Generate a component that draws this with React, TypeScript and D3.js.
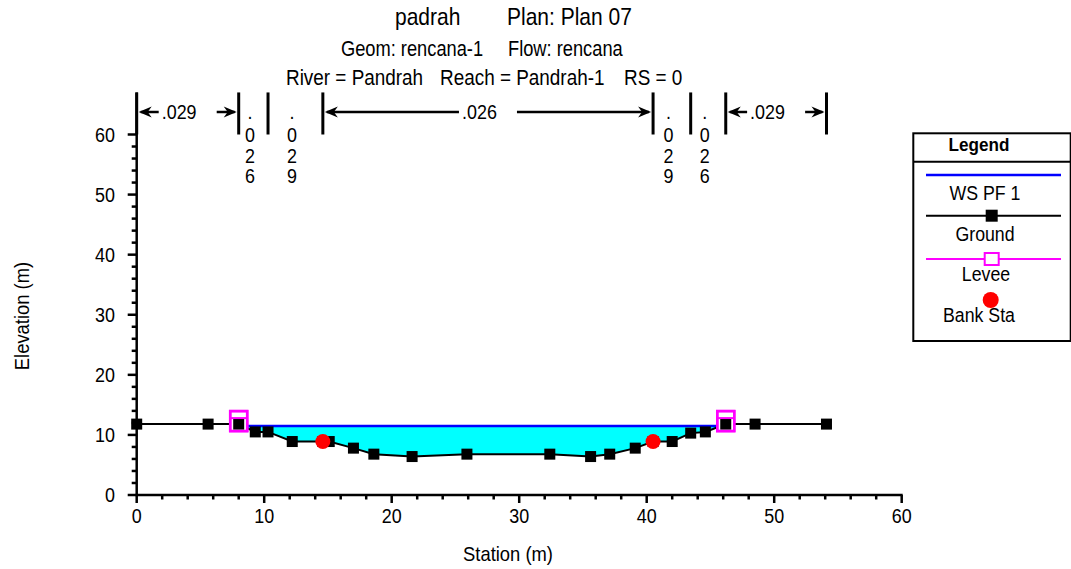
import React from "react";
import * as d3 from "d3";

// ---------- data ----------
const groundSta = [0, 5.6, 8.0, 9.3, 10.3, 12.2, 14.6, 15.1, 17.0, 18.6, 21.6, 25.9, 32.4, 35.6, 37.1, 39.1, 40.5, 42.0, 43.45, 44.6, 46.2, 48.5, 54.1];
const groundElev = [11.8, 11.8, 11.8, 10.5, 10.5, 8.9, 8.9, 8.9, 7.8, 6.8, 6.4, 6.8, 6.8, 6.4, 6.8, 7.8, 8.9, 8.9, 10.3, 10.5, 11.8, 11.8, 11.8];
const wsElev = 11.5;
const leveeSta = [8.0, 46.2];
const leveeElev = [12.3, 12.3];
const bankSta = [14.6, 40.5];
const bankElev = [8.9, 8.9];
const nBreaks = [0, 8.0, 10.3, 14.6, 40.5, 43.45, 46.2, 54.1];
const nValues = [".029", ".026", ".029", ".026", ".029", ".026", ".029"];
const xTicks = [0, 10, 20, 30, 40, 50, 60];
const yTicks = [0, 10, 20, 30, 40, 50, 60];
const legendItems = ["WS PF 1", "Ground", "Levee", "Bank Sta"];
const titleLine1 = ["padrah", "Plan: Plan 07"];
const titleLine2 = ["Geom: rencana-1", "Flow: rencana"];
const titleLine3 = ["River = Pandrah", "Reach = Pandrah-1", "RS = 0"];

const FONT = "'Liberation Sans', Arial, Helvetica, sans-serif";

function ST({ x, y, size, sx, children, anchor }: any) {
  return (
    <text transform={`translate(${x},${y}) scale(${sx},1)`} fontSize={size} textAnchor={anchor || "start"}>
      {children}
    </text>
  );
}

export default function App() {
  const x = d3.scaleLinear().domain([0, 60]).range([136.7, 901.7]);
  const y = d3.scaleLinear().domain([0, 60]).range([495, 134.5]);
  const yTop = 67;

  const ground = groundSta.map((s, i) => ({ s, e: groundElev[i] }));

  // water area between levees
  const wPts: { s: number; e: number }[] = [];
  for (let i = 0; i < ground.length - 1; i++) {
    const a = ground[i], b = ground[i + 1];
    if (b.s < leveeSta[0] || a.s > leveeSta[1]) continue;
    wPts.push(a);
    if ((a.e - wsElev) * (b.e - wsElev) < 0) {
      const t = (wsElev - a.e) / (b.e - a.e);
      wPts.push({ s: a.s + t * (b.s - a.s), e: wsElev });
    }
  }
  const lastIn = ground.filter((g) => g.s <= leveeSta[1]);
  wPts.push(lastIn[lastIn.length - 1]);
  const wet = wPts.filter((p) => p.e <= wsElev + 1e-9);
  const wsL = d3.min(wet, (p) => p.s) as number;
  const wsR = d3.max(wet, (p) => p.s) as number;
  const wetRange = wPts.filter((p) => p.s >= wsL && p.s <= wsR);

  const area = d3
    .area<{ s: number; e: number }>()
    .x((d) => x(d.s))
    .y0((d) => y(Math.min(d.e, wsElev)))
    .y1(() => y(wsElev));
  const line = d3
    .line<{ s: number; e: number }>()
    .x((d) => x(d.s))
    .y((d) => y(d.e));

  const xMinor = d3.range(0, 61, 2).filter((v) => v % 10 !== 0);
  const yMinor = d3.range(0, 61, 2).filter((v) => v % 10 !== 0);

  const barTop = y(yTop);
  const barBot = y(60);
  const arrowY = 112;

  const arrowHead = (bx: number, dir: number) => {
    const t = bx;
    return `M${t},${arrowY} L${t - dir * 13},${arrowY - 5.5} L${t - dir * 9},${arrowY} L${t - dir * 13},${arrowY + 5.5} Z`;
  };

  const nEls: React.ReactNode[] = [];
  nBreaks.forEach((b, i) => {
    nEls.push(
      <line key={"bar" + i} x1={x(b)} x2={x(b)} y1={barTop} y2={barBot} stroke="#000" strokeWidth={3} />
    );
  });
  nValues.forEach((v, i) => {
    const x0 = x(nBreaks[i]);
    const x1 = x(nBreaks[i + 1]);
    const mid = (x0 + x1) / 2;
    if (x1 - x0 > 80) {
      nEls.push(
        <g key={"n" + i}>
          <line x1={x0 + 4} x2={mid - 29} y1={arrowY} y2={arrowY} stroke="#000" strokeWidth={2.5} />
          <path d={arrowHead(x0 + 2, -1)} fill="#000" />
          <line x1={mid + 29} x2={x1 - 4} y1={arrowY} y2={arrowY} stroke="#000" strokeWidth={2.5} />
          <path d={arrowHead(x1 - 2, 1)} fill="#000" />
          <ST x={mid - 26} y={arrowY + 6.5} size={19.5} sx={0.92}>{v}</ST>
        </g>
      );
    } else {
      const chars = v.split("");
      const bases = [119, 141.5, 162.5, 183];
      nEls.push(
        <g key={"n" + i}>
          {chars.map((c, j) => (
            <ST key={j} x={mid - 3.5} y={bases[j]} size={19.5} sx={0.92} anchor="middle">{c}</ST>
          ))}
        </g>
      );
    }
  });

  const lx = 913.3, lw = 157.4, ly = 133.3, lh = 207.7;

  return (
    <svg
      width={1071}
      height={569}
      style={{ position: "absolute", left: 0, top: 0, background: "#fff" }}
      fontFamily={FONT}
    >
      <rect x={0} y={0} width={1071} height={569} fill="#fff" />
      {/* titles */}
      <ST x={395} y={25} size={24} sx={0.875}>{titleLine1[0]}</ST>
      <ST x={507} y={25} size={24} sx={0.875}>{titleLine1[1]}</ST>
      <ST x={341} y={56} size={21.5} sx={0.85}>{titleLine2[0]}</ST>
      <ST x={508} y={56} size={21.5} sx={0.85}>{titleLine2[1]}</ST>
      <ST x={286} y={84.5} size={22} sx={0.86}>{titleLine3[0]}</ST>
      <ST x={440} y={84.5} size={22} sx={0.86}>{titleLine3[1]}</ST>
      <ST x={624} y={84.5} size={22} sx={0.86}>{titleLine3[2]}</ST>

      {/* water */}
      <path d={area(wetRange) || ""} fill="#00FFFF" />
      <line x1={x(wsL)} x2={x(wsR)} y1={y(wsElev)} y2={y(wsElev)} stroke="#0000FF" strokeWidth={2.5} />

      {/* ground line */}
      <path d={line(ground) || ""} fill="none" stroke="#000" strokeWidth={2} />

      {/* levees (background) */}
      {leveeSta.map((s, i) => (
        <rect key={"lv" + i} x={x(s) - 8.5} y={y(leveeElev[i]) - 10} width={17} height={20} fill="#fff" stroke="#FF00FF" strokeWidth={2.5} />
      ))}

      {/* ground markers */}
      {ground.map((g, i) => (
        <rect key={"g" + i} x={x(g.s) - 5.5} y={y(g.e) - 5.5} width={11} height={11} fill="#000" />
      ))}

      {/* levee outlines */}
      {leveeSta.map((s, i) => (
        <g key={"lo" + i}>
          <rect x={x(s) - 8.5} y={y(leveeElev[i]) - 10} width={17} height={20} fill="none" stroke="#FF00FF" strokeWidth={2.5} />
          <line x1={x(s) - 8.5} x2={x(s) + 8.5} y1={y(leveeElev[i]) - 3} y2={y(leveeElev[i]) - 3} stroke="#FF00FF" strokeWidth={2} />
        </g>
      ))}

      {/* bank stations */}
      {bankSta.map((s, i) => (
        <circle key={"b" + i} cx={x(s)} cy={y(bankElev[i])} r={7.5} fill="#FF0000" />
      ))}

      {/* n values */}
      {nEls}

      {/* axes */}
      <line x1={x(0)} x2={x(0)} y1={y(0)} y2={y(yTop)} stroke="#000" strokeWidth={2.5} />
      <line x1={x(0) - 1} x2={x(60) + 1} y1={y(0)} y2={y(0)} stroke="#000" strokeWidth={2.5} />
      {xTicks.map((t) => (
        <g key={"xt" + t}>
          <line x1={x(t)} x2={x(t)} y1={y(0)} y2={y(0) + 8} stroke="#000" strokeWidth={2.5} />
          <ST x={x(t)} y={522.5} size={19.5} sx={0.92} anchor="middle">{t}</ST>
        </g>
      ))}
      {xMinor.map((t) => (
        <line key={"xm" + t} x1={x(t)} x2={x(t)} y1={y(0)} y2={y(0) + 4.5} stroke="#000" strokeWidth={2.5} />
      ))}
      {yTicks.map((t) => (
        <g key={"yt" + t}>
          <line x1={x(0) - 9} x2={x(0)} y1={y(t)} y2={y(t)} stroke="#000" strokeWidth={2.5} />
          <ST x={115} y={y(t) + 7} size={19.5} sx={0.92} anchor="end">{t}</ST>
        </g>
      ))}
      {yMinor.map((t) => (
        <line key={"ym" + t} x1={x(0) - 5} x2={x(0)} y1={y(t)} y2={y(t)} stroke="#000" strokeWidth={2.5} />
      ))}
      <ST x={508} y={561} size={20} sx={0.92} anchor="middle">Station (m)</ST>
      <text transform={`translate(29,316) rotate(-90) scale(0.92,1)`} fontSize={20} textAnchor="middle">Elevation (m)</text>

      {/* legend */}
      <rect x={lx} y={ly} width={lw} height={lh} fill="#fff" stroke="#000" strokeWidth={2} />
      <line x1={lx} x2={lx + lw} y1={161.7} y2={161.7} stroke="#000" strokeWidth={2} />
      <text transform={`translate(979,151) scale(0.9,1)`} fontSize={19} fontWeight="bold" textAnchor="middle">Legend</text>

      <line x1={926} x2={1061} y1={175} y2={175} stroke="#0000FF" strokeWidth={2.5} />
      <ST x={985} y={199.5} size={19.5} sx={0.91} anchor="middle">{legendItems[0]}</ST>

      <line x1={926} x2={1061} y1={215.7} y2={215.7} stroke="#000" strokeWidth={2} />
      <rect x={991.7 - 6} y={215.7 - 6} width={12} height={12} fill="#000" />
      <ST x={985} y={240.5} size={19.5} sx={0.91} anchor="middle">{legendItems[1]}</ST>

      <line x1={926} x2={1061} y1={259} y2={259} stroke="#FF00FF" strokeWidth={2} />
      <rect x={991.7 - 7} y={259 - 6} width={14} height={12} fill="#fff" stroke="#FF00FF" strokeWidth={2} />
      <ST x={986} y={280.5} size={19.5} sx={0.91} anchor="middle">{legendItems[2]}</ST>

      <circle cx={990.7} cy={300} r={8} fill="#FF0000" />
      <ST x={979} y={322} size={19.5} sx={0.91} anchor="middle">{legendItems[3]}</ST>
    </svg>
  );
}
